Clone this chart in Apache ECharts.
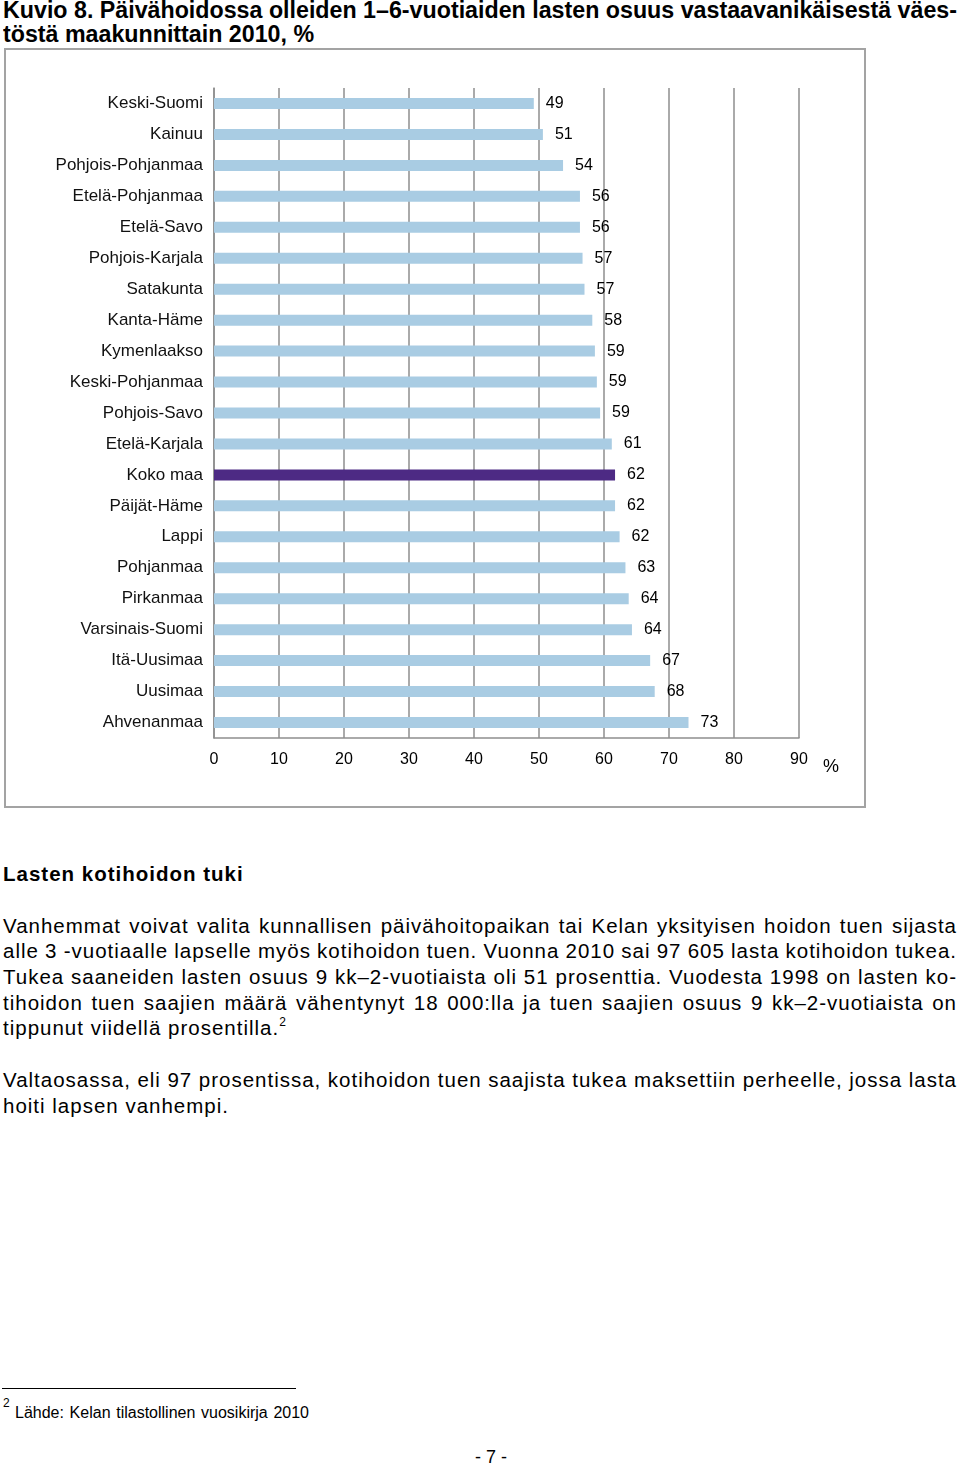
<!DOCTYPE html>
<html>
<head>
<meta charset="utf-8">
<script src="https://cdn.jsdelivr.net/npm/echarts@6/dist/echarts.min.js"></script>
<style>
  html, body { margin: 0; padding: 0; background: #fff; }
  body { width: 960px; height: 1465px; position: relative; overflow: hidden; font-family: 'Liberation Sans', Arial, Helvetica, sans-serif; color: #000; }
  .abs { position: absolute; white-space: nowrap; }
  .title { font-family: 'Liberation Sans', Arial, sans-serif; font-weight: bold; font-size: 23.5px; line-height: 26px; left: 3px; transform-origin: 0 50%; }
  .para { font-size: 20.5px; line-height: 26px; left: 3px; letter-spacing: 1px; }
  #box { position: absolute; left: 4px; top: 48px; width: 858px; height: 756px; border: 2px solid #a3a3a3; }
  #chart { position: absolute; left: 0; top: 0; width: 960px; height: 820px; }
  sup { font-size: 12px; vertical-align: 0; position: relative; top: -9px; letter-spacing: 0; }
</style>
</head>
<body>
<div id="t1" class="abs title" style="top:-3px">Kuvio 8. Päivähoidossa olleiden 1–6-vuotiaiden lasten osuus vastaavanikäisestä väes-</div>
<div id="t2" class="abs title" style="top:21px">töstä maakunnittain 2010, %</div>
<div id="box"></div>
<div id="chart"></div>

<div class="abs para" style="top:861px; font-weight:bold;">Lasten kotihoidon tuki</div>
<div class="abs para fit" data-w="954" style="top:913px">Vanhemmat voivat valita kunnallisen päivähoitopaikan tai Kelan yksityisen hoidon tuen sijasta</div>
<div class="abs para fit" data-w="954" style="top:938px">alle 3 -vuotiaalle lapselle myös kotihoidon tuen. Vuonna 2010 sai 97 605 lasta kotihoidon tukea.</div>
<div class="abs para fit" data-w="954" style="top:964px">Tukea saaneiden lasten osuus 9 kk–2-vuotiaista oli 51 prosenttia. Vuodesta 1998 on lasten ko-</div>
<div class="abs para fit" data-w="954" style="top:990px">tihoidon tuen saajien määrä vähentynyt 18 000:lla ja tuen saajien osuus 9 kk–2-vuotiaista on</div>
<div class="abs para" style="top:1015px">tippunut viidellä prosentilla.<sup>2</sup></div>
<div class="abs para fit" data-w="954" style="top:1067px">Valtaosassa, eli 97 prosentissa, kotihoidon tuen saajista tukea maksettiin perheelle, jossa lasta</div>
<div class="abs para" style="top:1093px">hoiti lapsen vanhempi.</div>

<div style="position:absolute; left:2px; top:1388px; width:294px; height:0; border-top:1.5px solid #000;"></div>
<div class="abs" style="left:3px; top:1396px; font-size:12px; line-height:14px;">2</div>
<div class="abs fit" data-w="294" style="left:15px; top:1403px; font-size:16px; line-height:20px;">Lähde: Kelan tilastollinen vuosikirja 2010</div>
<div class="abs" style="left:475px; top:1446px; font-size:18px; line-height:22px;">- 7 -</div>

<script>
// ---- data ----
var categories = ['Keski-Suomi','Kainuu','Pohjois-Pohjanmaa','Etelä-Pohjanmaa','Etelä-Savo','Pohjois-Karjala','Satakunta','Kanta-Häme','Kymenlaakso','Keski-Pohjanmaa','Pohjois-Savo','Etelä-Karjala','Koko maa','Päijät-Häme','Lappi','Pohjanmaa','Pirkanmaa','Varsinais-Suomi','Itä-Uusimaa','Uusimaa','Ahvenanmaa'];
var values = [49.2, 50.6, 53.7, 56.3, 56.3, 56.7, 57.0, 58.2, 58.6, 58.9, 59.4, 61.2, 61.7, 61.7, 62.4, 63.3, 63.8, 64.3, 67.1, 67.8, 73.0];
var highlightCategory = 'Koko maa';
var xTicks = { min: 0, max: 90, step: 10 };
var unitLabel = '%';

// ---- title: condense horizontally to fit the line width ----
(function () {
  var t1 = document.getElementById('t1'), t2 = document.getElementById('t2');
  var w = t1.getBoundingClientRect().width;
  var s = 954 / w;
  t1.style.transform = 'scaleX(' + s + ')';
  t2.style.transform = 'scaleX(' + s + ')';
})();

// ---- fit justified lines ----
document.querySelectorAll('.fit').forEach(function (el) {
  var target = parseFloat(el.getAttribute('data-w'));
  el.style.display = 'inline-block';
  var w = el.getBoundingClientRect().width;
  var txt = el.textContent;
  var spaces = (txt.match(/ /g) || []).length;
  if (spaces > 0) {
    var ws = (target - w) / spaces;
    if (ws < -2) {
      var ls = parseFloat(getComputedStyle(el).letterSpacing) || 0;
      el.style.letterSpacing = (ls + (target - w + 2 * spaces) / txt.length) + 'px';
      ws = -2;
      w = target + 2 * spaces;
    }
    el.style.wordSpacing = ws + 'px';
  }
});

// ---- chart ----
var gridColor = '#8e8e8e';
var chart = echarts.init(document.getElementById('chart'), null, { renderer: 'canvas' });
chart.setOption({
  animation: false,
  backgroundColor: 'transparent',
  textStyle: { fontFamily: "'Liberation Sans', Arial, sans-serif" },
  grid: { left: 214, right: 161, top: 88, bottom: 82, containLabel: false },
  xAxis: {
    type: 'value', min: xTicks.min, max: xTicks.max, interval: xTicks.step,
    axisLine: { show: true, lineStyle: { color: gridColor, width: 1.5 } },
    axisTick: { show: false },
    splitLine: { show: true, lineStyle: { color: gridColor, width: 1.5 } },
    axisLabel: { color: '#000', fontSize: 16, margin: 14 },
    name: unitLabel, nameLocation: 'end', nameGap: 24,
    nameTextStyle: { color: '#000', fontSize: 18, verticalAlign: 'top', align: 'left', padding: [20, 0, 0, 0] }
  },
  yAxis: {
    type: 'category', inverse: true, data: categories,
    axisLine: { show: true, lineStyle: { color: gridColor, width: 1.5 } },
    axisTick: { show: false },
    axisLabel: { color: '#111', fontSize: 17, margin: 11, padding: [2, 0, 0, 0] }
  },
  series: [{
    type: 'bar',
    barWidth: 11,
    data: values.map(function (v, i) {
      var d = { value: v };
      if (categories[i] === highlightCategory) d.itemStyle = { color: '#4d2a84' };
      return d;
    }),
    itemStyle: { color: '#a9cce3' },
    label: {
      show: true, position: 'right', distance: 12, color: '#000', fontSize: 16,
      padding: [2, 0, 0, 0],
      formatter: function (p) { return Math.round(p.value); }
    }
  }]
});
</script>
</body>
</html>
